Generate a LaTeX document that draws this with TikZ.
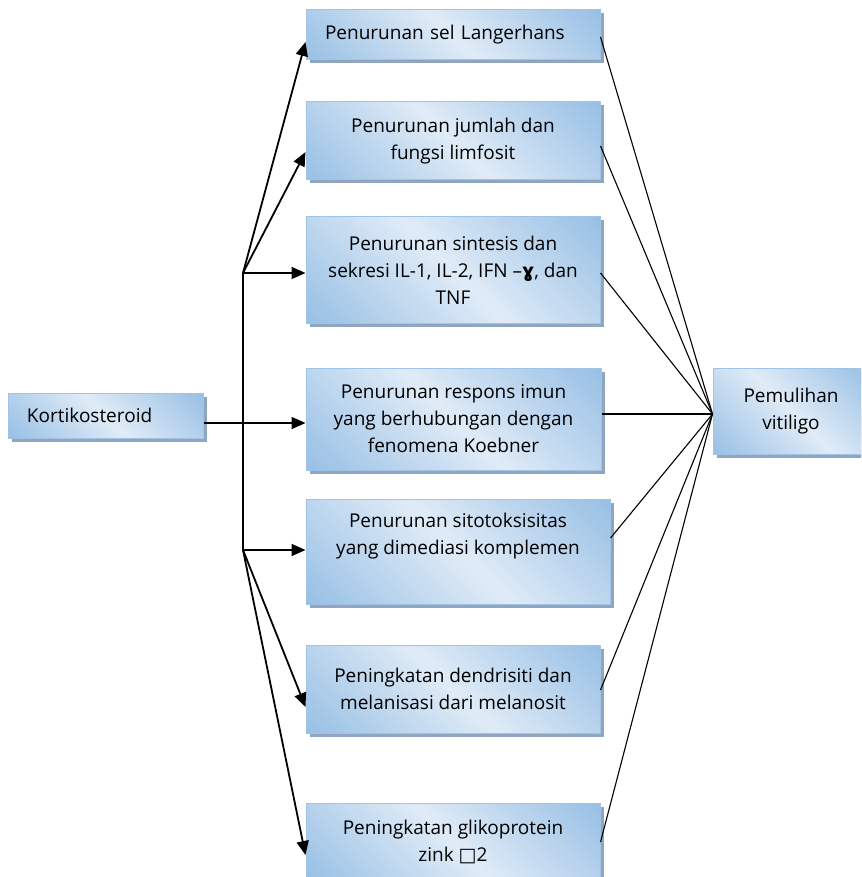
\documentclass[tikz,border=0pt]{standalone}
\usepackage{fontspec}
\setmainfont{Open Sans}
\newfontfamily\djv{DejaVu Sans}
\usetikzlibrary{arrows.meta,shadows,calc}
\definecolor{bdark}{RGB}{152,192,229}
\definecolor{blight}{RGB}{224,235,247}
\definecolor{bborder}{RGB}{160,196,232}
\definecolor{shadowc}{RGB}{143,165,192}
\pgfdeclarehorizontalshading{boxshade}{100bp}{color(0bp)=(bdark); color(15bp)=(bdark); color(50bp)=(blight); color(85bp)=(bdark); color(100bp)=(bdark)}
\begin{document}
\begin{tikzpicture}[x=1pt,y=-1pt,
  box/.style={draw=bborder, line width=1pt, shade, shading=boxshade, shading angle=45,
    drop shadow={shadow xshift=3.5pt, shadow yshift=-3.5pt, fill=shadowc, opacity=1},
    inner sep=0pt, align=center, font=\fontsize{19}{27}\selectfont},
  arr/.style={line width=1.8pt, -{Triangle[length=14pt,width=12pt]}},
  thinline/.style={line width=1.1pt},
  trunk/.style={line width=1.5pt}]
\useasboundingbox (0,0) rectangle (861,877);
\clip (0,0) rectangle (861,877);
\node[box, minimum width=294pt, minimum height=50pt, text width=256pt, align=left, inner xsep=19pt] (n1) at (453,35) {Penurunan sel Langerhans};
\node[box, minimum width=294pt, minimum height=78pt] (n2) at (453,141) {Penurunan jumlah dan\\fungsi limfosit};
\node[box, minimum width=294pt, minimum height=106pt] (n3) at (453,270) {Penurunan sintesis dan\\sekresi IL-1, IL-2, IFN –{\djv\bfseries ɣ}, dan\\TNF};
\node[box, minimum width=295pt, minimum height=102pt] (n4) at (453.5,419) {Penurunan respons imun\\yang berhubungan dengan\\fenomena Koebner};
\node[box, minimum width=304pt, minimum height=105pt] (n5) at (458,551.5) {Penurunan sitotoksisitas\\yang dimediasi komplemen\\\strut};
\node[box, minimum width=294pt, minimum height=88pt] (n6) at (453,689) {Peningkatan dendrisiti dan\\melanisasi dari melanosit};
\node[box, minimum width=294pt, minimum height=78pt] (n7) at (453,842) {Peningkatan glikoprotein\\zink {\djv □}2};
\node[box, minimum width=195pt, minimum height=45pt, text width=157pt, align=left, inner xsep=19pt] (k) at (105.5,415.5) {Kortikosteroid};
\node[box, minimum width=156pt, minimum height=86pt] (p) at (791,411) {Pemulihan\\vitiligo};

\coordinate (b1) at (243,273);
\coordinate (b2) at (243,550);
\coordinate (c) at ([yshift=-3pt]p.west);

\draw[trunk] (b1) -- (b2);
\draw[arr] (b1) -- ([yshift=-7pt]n1.west);
\draw[arr] (b1) -- ([yshift=-11pt]n2.west);
\draw[arr] (b1) -- (b1 -| n3.west);
\draw[arr] ([yshift=-7.5pt]k.east) -- ([yshift=-7.5pt]k.east -| n4.west);
\draw[arr] (b2) -- (b2 -| n5.west);
\draw[arr] (b2) -- ([yshift=-18pt]n6.west);
\draw[arr] (b2) -- ([yshift=-13pt]n7.west);

\draw[thinline] ([yshift=-2pt]n1.east) -- (c);
\draw[thinline] ([yshift=-5pt]n2.east) -- (c);
\draw[thinline] ([yshift=-3pt]n3.east) -- (c);
\draw[thinline] ([yshift=5pt]n4.east) -- (c);
\draw[thinline] ([yshift=13.5pt]n5.east) -- (c);
\draw[thinline] ([yshift=-1pt]n6.east) -- (c);
\draw[thinline] (n7.east) -- (c);
\end{tikzpicture}
\end{document}
